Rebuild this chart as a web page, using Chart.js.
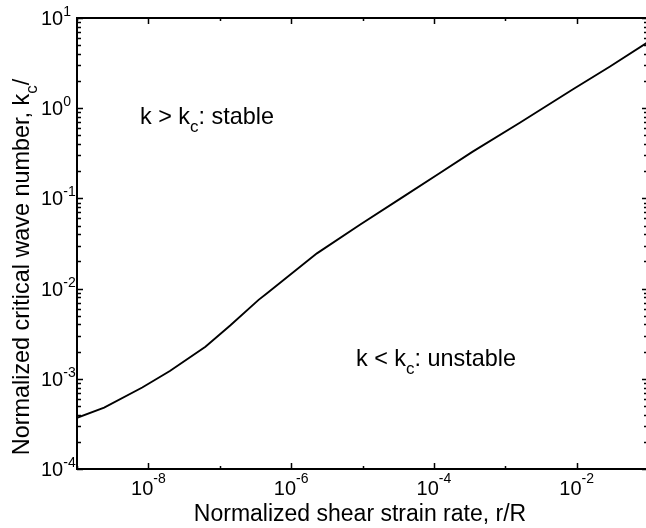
<!DOCTYPE html>
<html>
<head>
<meta charset="utf-8">
<script src="https://cdn.jsdelivr.net/npm/chart.js@4/dist/chart.umd.min.js"></script>
<style>
  html, body { margin: 0; padding: 0; background: #fff; overflow: hidden; }
  #wrap { width: 650px; height: 528px; }
</style>
</head>
<body>
<div id="wrap"><canvas id="kc-chart" width="650" height="528"></canvas></div>
<script>
// normalized shear strain rate r/R  vs  normalized critical wave number kc
const strainRate = [1e-9, 2.4e-9, 8.2e-9, 2.0e-8, 6.3e-8, 1.4e-7, 3.5e-7, 4.6e-7, 2.3e-6,
                    9.2e-6, 3.7e-5, 1.2e-4, 3.5e-4, 1.6e-3, 8.9e-3, 2.9e-2, 1e-1];
const waveNumber = [3.7e-4, 4.8e-4, 8.0e-4, 1.22e-3, 2.27e-3, 3.9e-3, 7.5e-3, 8.9e-3, 2.46e-2,
                    5.1e-2, 0.104, 0.19, 0.33, 0.69, 1.62, 2.88, 5.4];

const xDecades = [-9, -8, -7, -6, -5, -4, -3, -2, -1];
const xLabelExps = [-8, -6, -4, -2];
const yLabelExps = [-4, -3, -2, -1, 0, 1];

const xTitle = "Normalized shear strain rate, r/R";
const yTitle = ["Normalized critical wave number, k", "c", "/"];
const noteStable = ["k > k", "c", ": stable"];
const noteUnstable = ["k < k", "c", ": unstable"];

const FONT = "'Liberation Sans', Arial, sans-serif";

function pow10(e) { return Math.pow(10, e); }

// draws [text, subscript, text] starting at x (left), baseline y
function drawSubText(ctx, parts, x, y, size) {
  const subSize = Math.round(size * 0.72);
  ctx.font = size + "px " + FONT;
  ctx.fillText(parts[0], x, y);
  x += ctx.measureText(parts[0]).width;
  ctx.font = subSize + "px " + FONT;
  ctx.fillText(parts[1], x, y + 8);
  x += ctx.measureText(parts[1]).width;
  ctx.font = size + "px " + FONT;
  ctx.fillText(parts[2], x, y);
}

function subTextWidth(ctx, parts, size) {
  const subSize = Math.round(size * 0.72);
  ctx.font = size + "px " + FONT;
  let w = ctx.measureText(parts[0]).width + ctx.measureText(parts[2]).width;
  ctx.font = subSize + "px " + FONT;
  return w + ctx.measureText(parts[1]).width;
}

function powLabelWidth(ctx, e) {
  ctx.font = "20px " + FONT;
  const w = ctx.measureText("10").width;
  ctx.font = "14px " + FONT;
  return w + ctx.measureText(String(e)).width;
}

function drawPowLabel(ctx, e, x, y, supDy) {
  ctx.font = "20px " + FONT;
  ctx.fillText("10", x, y);
  const w = ctx.measureText("10").width;
  ctx.font = "14px " + FONT;
  ctx.fillText(String(e), x + w, y - supDy);
}

const matlabAxes = {
  id: "matlabAxes",
  afterDraw(chart) {
    const { ctx, chartArea: a, scales: { x, y } } = chart;
    ctx.save();
    ctx.strokeStyle = "#000";
    ctx.fillStyle = "#000";

    // box
    ctx.lineWidth = 2;
    ctx.beginPath();
    ctx.moveTo(a.left, a.top);
    ctx.lineTo(a.right, a.top);
    ctx.lineTo(a.right, a.bottom);
    ctx.lineTo(a.left, a.bottom);
    ctx.closePath();
    ctx.stroke();

    // x ticks (bottom and top, inward)
    ctx.lineWidth = 1.5;
    ctx.beginPath();
    xDecades.forEach(e => {
      const px = Math.round(x.getPixelForValue(pow10(e))) + 0.5;
      const len = xLabelExps.includes(e) ? 6 : 3;
      ctx.moveTo(px, a.bottom); ctx.lineTo(px, a.bottom - len);
      ctx.moveTo(px, a.top); ctx.lineTo(px, a.top + len);
    });
    // y ticks (left and right, inward), decades + minors
    for (let e = -4; e <= 1; e++) {
      for (let m = 1; m <= 9; m++) {
        const v = m * pow10(e);
        if (v > 10) break;
        const py = Math.round(y.getPixelForValue(v)) + 0.5;
        const len = m === 1 ? 6 : 4;
        ctx.moveTo(a.left, py); ctx.lineTo(a.left + len, py);
        ctx.moveTo(a.right, py); ctx.lineTo(a.right - len, py);
      }
    }
    ctx.stroke();

    // tick labels
    ctx.textBaseline = "alphabetic";
    ctx.textAlign = "left";
    xLabelExps.forEach(e => {
      const px = x.getPixelForValue(pow10(e));
      const w = powLabelWidth(ctx, e);
      drawPowLabel(ctx, e, px - w / 2, a.bottom + 26, 12);
    });
    yLabelExps.forEach(e => {
      const py = y.getPixelForValue(pow10(e));
      drawPowLabel(ctx, e, 41, py + 7, 9);
    });

    // axis titles
    ctx.font = "23px " + FONT;
    ctx.textAlign = "center";
    ctx.fillText(xTitle, 360, 521);

    ctx.textAlign = "left";
    ctx.save();
    ctx.translate(29, 267);
    ctx.rotate(-Math.PI / 2);
    const tw = subTextWidth(ctx, yTitle, 23.4);
    drawSubText(ctx, yTitle, -tw / 2, 0, 23.4);
    ctx.restore();

    // region notes
    drawSubText(ctx, noteStable, a.left + 63, a.top + 106, 23.4);
    drawSubText(ctx, noteUnstable, a.left + 279, a.top + 348, 23.4);

    ctx.restore();
  }
};

new Chart(document.getElementById("kc-chart"), {
  type: "scatter",
  data: {
    datasets: [{
      data: strainRate.map((r, i) => ({ x: r, y: waveNumber[i] })),
      showLine: true,
      borderColor: "#000",
      borderWidth: 1.9,
      pointRadius: 0,
      tension: 0
    }]
  },
  options: {
    responsive: false,
    animation: false,
    layout: { padding: { left: 77, right: 2, top: 18, bottom: 59 } },
    plugins: { legend: { display: false }, tooltip: { enabled: false } },
    scales: {
      x: { type: "logarithmic", min: 1e-9, max: 1e-1, display: false },
      y: { type: "logarithmic", min: 1e-4, max: 10, display: false }
    }
  },
  plugins: [matlabAxes]
});
</script>
</body>
</html>
